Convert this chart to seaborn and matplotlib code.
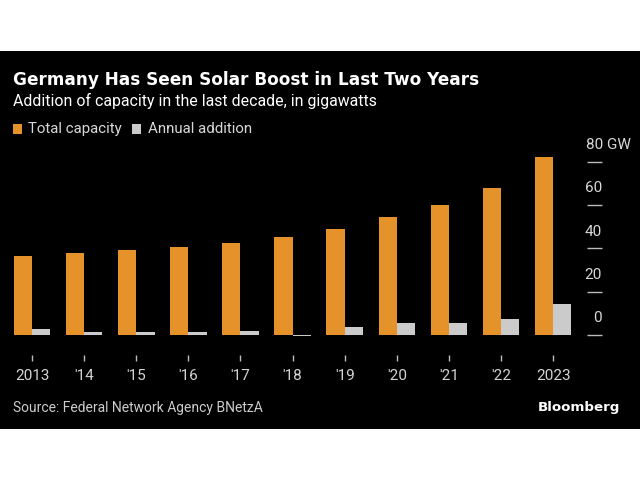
import numpy as np
import pandas as pd
import seaborn as sns
import matplotlib.pyplot as plt
from matplotlib.patches import Rectangle

# 数据
years = ['2013', "'14", "'15", "'16", "'17", "'18", "'19", "'20", "'21", "'22", '2023']
total_capacity = [36.5, 38.0, 39.3, 40.8, 42.4, 45.3, 49.0, 54.6, 60.0, 68.0, 82.3]
annual_addition = [2.6, 1.4, 1.4, 1.5, 1.8, -0.4, 3.8, 5.4, 5.7, 7.5, 14.3]
series_names = ['Total capacity', 'Annual addition']

orange = '#E6922B'
grey = '#CBCBCB'

df = pd.DataFrame({
    'year': years * 2,
    'value': total_capacity + annual_addition,
    'series': [series_names[0]] * len(years) + [series_names[1]] * len(years),
})

sns.set_style('dark')
plt.rcParams['font.family'] = ['Roboto', 'DejaVu Sans']

fig = plt.figure(figsize=(6.4, 4.8), dpi=100, facecolor='white')
# 黑色背景区域
fig.patches.append(Rectangle((0, 1 - 429 / 480), 1, 378 / 480, transform=fig.transFigure,
                             facecolor='black', edgecolor='none', zorder=-10))

ax = fig.add_axes([6 / 640, 1 - 355 / 480, 581 / 640, 205 / 480])
ax.set_facecolor('black')

sns.barplot(data=df, x='year', y='value', hue='series', order=years,
            palette=[orange, grey], width=0.7, linewidth=0, ax=ax,
            legend=False, saturation=1)

ax.set_xlim(-0.5, 10.65)
ax.set_ylim(-9.25, 85.5)
for s in ax.spines.values():
    s.set_visible(False)
ax.grid(False)
ax.set_xlabel('')
ax.set_ylabel('')

# x轴刻度
ax.tick_params(axis='x', colors='#BBBBBB', length=4, width=1, direction='out',
               pad=6, labelsize=11, labelcolor='#D4D4D4', bottom=True)
ax.set_xticks(range(len(years)))
ax.set_xticklabels(years)

# y轴刻度（右侧）
yticks = [0, 20, 40, 60, 80]
ax.yaxis.tick_right()
ax.set_yticks(yticks)
ax.tick_params(axis='y', colors='#BBBBBB', length=11, width=1, direction='out',
               labelright=False, right=True, left=False)
tr = ax.get_yaxis_transform()
for v in yticks:
    if v == 80:
        ax.text(0.999, v + 4.5, '80 GW', transform=tr, ha='left', va='bottom',
                color='#D8D8D8', fontsize=11)
    else:
        ax.text(1.026, v + 4.5, str(v), transform=tr, ha='right', va='bottom',
                color='#D8D8D8', fontsize=11)

# 标题和文字
fig.text(13 / 640, 1 - 80 / 480, 'Germany Has Seen Solar Boost in Last Two Years',
         color='white', fontsize=12.2, fontweight='bold', va='center', family='DejaVu Sans')
fig.text(13 / 640, 1 - 101 / 480, 'Addition of capacity in the last decade, in gigawatts',
         color='white', fontsize=11.4, va='center')

# 图例
fig.patches.append(Rectangle((13 / 640, 1 - 134 / 480), 9 / 640, 10 / 480,
                             transform=fig.transFigure, facecolor=orange, edgecolor='none'))
fig.text(28 / 640, 1 - 129 / 480, series_names[0], color='#D8D8D8', fontsize=10.8, va='center')
fig.patches.append(Rectangle((132 / 640, 1 - 134 / 480), 9 / 640, 10 / 480,
                             transform=fig.transFigure, facecolor=grey, edgecolor='none'))
fig.text(148 / 640, 1 - 129 / 480, series_names[1], color='#D8D8D8', fontsize=10.8, va='center')

fig.text(13 / 640, 1 - 408 / 480, 'Source: Federal Network Agency BNetzA',
         color='#CCCCCC', fontsize=10, va='center')
fig.text(620 / 640, 1 - 407 / 480, 'Bloomberg', color='white', fontsize=9.6,
         fontweight='bold', va='center', ha='right', family='DejaVu Sans')

fig.savefig('out.png', dpi=100, facecolor='white')
